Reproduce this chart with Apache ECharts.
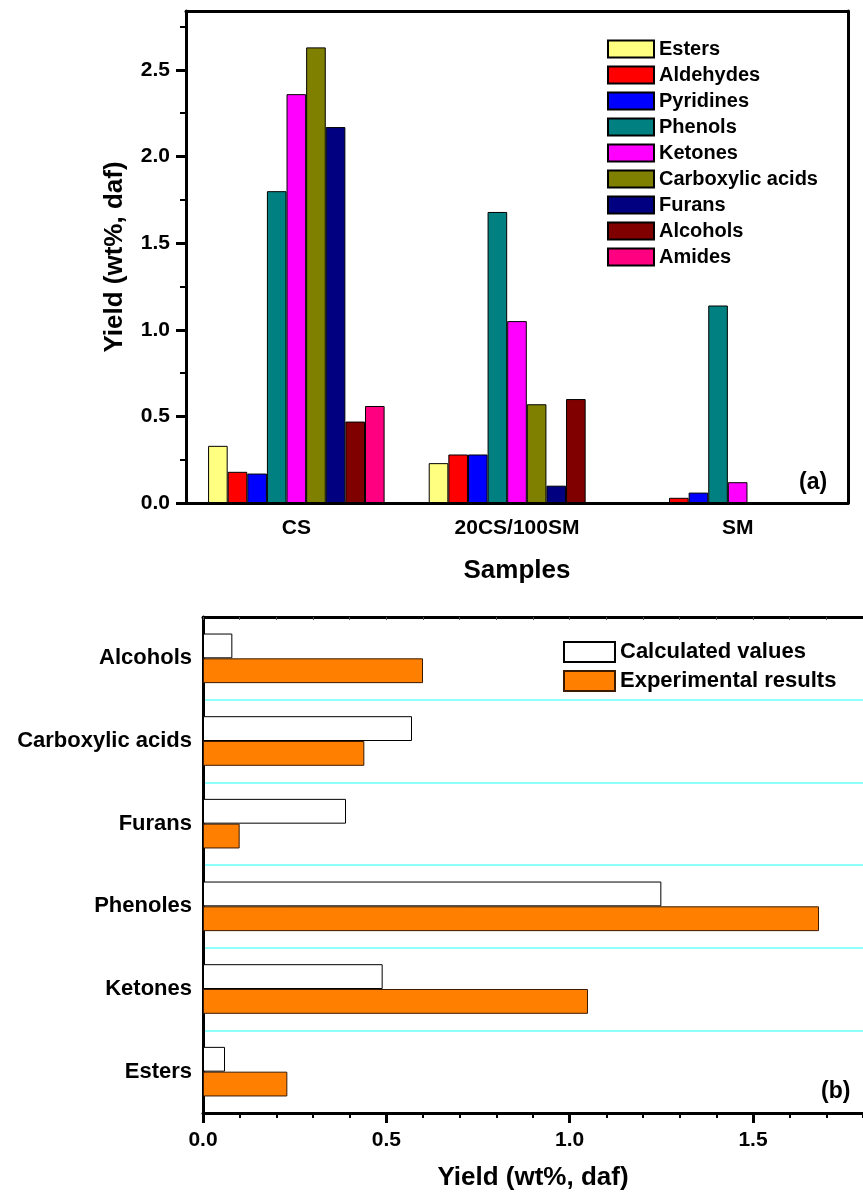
<!DOCTYPE html>
<html>
<head>
<meta charset="utf-8">
<script src="https://cdn.jsdelivr.net/npm/echarts@6/dist/echarts.min.js"></script>
<style>
  html, body { margin: 0; padding: 0; background: #fff; }
  #main { width: 863px; height: 1196px; }
</style>
</head>
<body>
<div id="main"></div>
<script>
// (a) yields by sample
const samples = ['CS', '20CS/100SM', 'SM']
const esters = [0.33, 0.23, 0]
const aldehydes = [0.18, 0.28, 0.03]
const pyridines = [0.17, 0.28, 0.06]
const phenols = [1.80, 1.68, 1.14]
const ketones = [2.36, 1.05, 0.12]
const carboxylicAcids = [2.63, 0.57, 0]
const furans = [2.17, 0.10, 0]
const alcohols = [0.47, 0.60, 0]
const amides = [0.56, 0, 0]
const yTicksA = [0, 0.5, 1, 1.5, 2, 2.5]
const yMinorA = [0.25, 0.75, 1.25, 1.75, 2.25, 2.75]

// (b) calculated vs experimental, bottom to top
const compounds = ['Esters', 'Ketones', 'Phenoles', 'Furans', 'Carboxylic acids', 'Alcohols']
const calculated = [0.06, 0.49, 1.25, 0.39, 0.57, 0.08]
const experimental = [0.23, 1.05, 1.68, 0.10, 0.44, 0.60]
const xTicksB = [0, 0.5, 1, 1.5]
const xMinorB = [0.1, 0.2, 0.3, 0.4, 0.6, 0.7, 0.8, 0.9, 1.1, 1.2, 1.3, 1.4, 1.6, 1.7, 1.8]

const FONT = 'Liberation Sans, Arial, sans-serif'
const bold = (size) => ({ fontFamily: FONT, fontWeight: 'bold', fontSize: size, color: '#000' })
const blackLine = (w) => ({ lineStyle: { color: '#000', width: w } })

const seriesA = [
  ['Esters', esters, '#FFFF80'],
  ['Aldehydes', aldehydes, '#FF0000'],
  ['Pyridines', pyridines, '#0000FF'],
  ['Phenols', phenols, '#008080'],
  ['Ketones', ketones, '#FF00FF'],
  ['Carboxylic acids', carboxylicAcids, '#808000'],
  ['Furans', furans, '#000080'],
  ['Alcohols', alcohols, '#800000'],
  ['Amides', amides, '#FF0080']
].map(([name, data, color]) => ({
  name,
  type: 'bar',
  xAxisIndex: 0,
  yAxisIndex: 0,
  data,
  barGap: 0,
  barCategoryGap: '20%',
  itemStyle: { color, borderColor: '#000', borderWidth: 1 }
}))

const chart = echarts.init(document.getElementById('main'))

chart.setOption({
  animation: false,
  backgroundColor: '#fff',
  grid: [
    { left: 186, top: 11, width: 662, height: 492 },
    { left: 203, top: 617, right: 0, height: 496 }
  ],
  legend: [
    {
      data: seriesA.map(s => s.name),
      orient: 'vertical',
      left: 602,
      top: 34,
      itemWidth: 46,
      itemHeight: 17,
      itemGap: 6,
      icon: 'rect',
      textStyle: Object.assign(bold(20), { lineHeight: 20 })
    },
    {
      data: ['Calculated values', 'Experimental results'],
      orient: 'vertical',
      left: 558,
      top: 636,
      itemWidth: 51,
      itemHeight: 20,
      itemGap: 7,
      icon: 'rect',
      textStyle: Object.assign(bold(22), { lineHeight: 22 })
    }
  ],
  xAxis: [
    {
      gridIndex: 0, type: 'category', position: 'bottom', data: samples,
      axisLine: Object.assign({ onZero: false }, blackLine(3)),
      axisTick: Object.assign({ alignWithLabel: true, length: 9 }, blackLine(3)),
      axisLabel: Object.assign({ margin: 15 }, bold(21)),
      name: 'Samples', nameLocation: 'middle', nameGap: 55,
      nameTextStyle: bold(26)
    },
    {
      gridIndex: 0, type: 'category', position: 'bottom', data: samples,
      axisLine: { show: false, onZero: false },
      axisTick: Object.assign({ length: 5 }, blackLine(2)),
      axisLabel: { show: false }
    },
    {
      gridIndex: 0, type: 'category', position: 'top', data: samples,
      axisLine: Object.assign({ onZero: false }, blackLine(3)),
      axisTick: { show: false },
      axisLabel: { show: false }
    },
    {
      gridIndex: 1, type: 'value', position: 'bottom', min: 0, max: 1.8,
      axisLine: Object.assign({ show: true, onZero: false }, blackLine(3)),
      axisTick: Object.assign({ show: true, length: 10, customValues: xTicksB }, blackLine(3)),
      axisLabel: Object.assign({ margin: 17, customValues: xTicksB, formatter: v => v.toFixed(1) }, bold(21)),
      splitLine: { show: false },
      name: 'Yield (wt%, daf)', nameLocation: 'middle', nameGap: 52,
      nameTextStyle: bold(26)
    },
    {
      gridIndex: 1, type: 'value', position: 'bottom', min: 0, max: 1.8,
      axisLine: { show: false, onZero: false },
      axisTick: Object.assign({ show: true, length: 5, customValues: xMinorB }, blackLine(2)),
      axisLabel: { show: false },
      splitLine: { show: false }
    },
    {
      gridIndex: 1, type: 'value', position: 'top', min: 0, max: 1.8,
      axisLine: Object.assign({ show: true, onZero: false }, blackLine(3)),
      axisTick: { show: true, inside: true, length: 3, customValues: xTicksB.concat(xMinorB), lineStyle: { color: '#555', width: 1 } },
      axisLabel: { show: false },
      splitLine: { show: false }
    }
  ],
  yAxis: [
    {
      gridIndex: 0, type: 'value', position: 'left', min: 0, max: 2.84,
      axisLine: Object.assign({ show: true, onZero: false }, blackLine(3)),
      axisTick: Object.assign({ show: true, length: 10, customValues: yTicksA }, blackLine(3)),
      axisLabel: Object.assign({ margin: 16, customValues: yTicksA, formatter: v => v.toFixed(1) }, bold(21)),
      splitLine: { show: false },
      name: 'Yield (wt%, daf)', nameLocation: 'middle', nameGap: 58,
      nameTextStyle: bold(26)
    },
    {
      gridIndex: 0, type: 'value', position: 'left', min: 0, max: 2.84,
      axisLine: { show: false, onZero: false },
      axisTick: Object.assign({ show: true, length: 6, customValues: yMinorA }, blackLine(2)),
      axisLabel: { show: false },
      splitLine: { show: false }
    },
    {
      gridIndex: 0, type: 'value', position: 'right', min: 0, max: 2.84,
      axisLine: Object.assign({ show: true, onZero: false }, blackLine(3)),
      axisTick: { show: false },
      axisLabel: { show: false },
      splitLine: { show: false }
    },
    {
      gridIndex: 1, type: 'category', position: 'left', data: compounds,
      axisLine: Object.assign({ onZero: false }, blackLine(3)),
      axisTick: Object.assign({ length: 5 }, blackLine(3)),
      axisLabel: Object.assign({ margin: 11 }, bold(22)),
      splitLine: { show: true, lineStyle: { color: '#66FFFF', width: 1.5 } }
    }
  ],
  series: seriesA.concat([
    {
      name: 'Calculated values',
      type: 'bar',
      xAxisIndex: 3,
      yAxisIndex: 3,
      data: calculated,
      barGap: 0,
      barCategoryGap: '40%',
      itemStyle: { color: '#FFFFFF', borderColor: '#000', borderWidth: 1 }
    },
    {
      name: 'Experimental results',
      type: 'bar',
      xAxisIndex: 3,
      yAxisIndex: 3,
      data: experimental,
      barGap: 0,
      barCategoryGap: '40%',
      itemStyle: { color: '#FF8000', borderColor: '#3A1A00', borderWidth: 1 }
    }
  ]),
  graphic: [
    { type: 'text', left: 799, top: 471, style: { text: '(a)', font: 'bold 23px ' + FONT, fill: '#000' } },
    { type: 'text', left: 821, top: 1080, style: { text: '(b)', font: 'bold 23px ' + FONT, fill: '#000' } }
  ]
})
</script>
</body>
</html>
